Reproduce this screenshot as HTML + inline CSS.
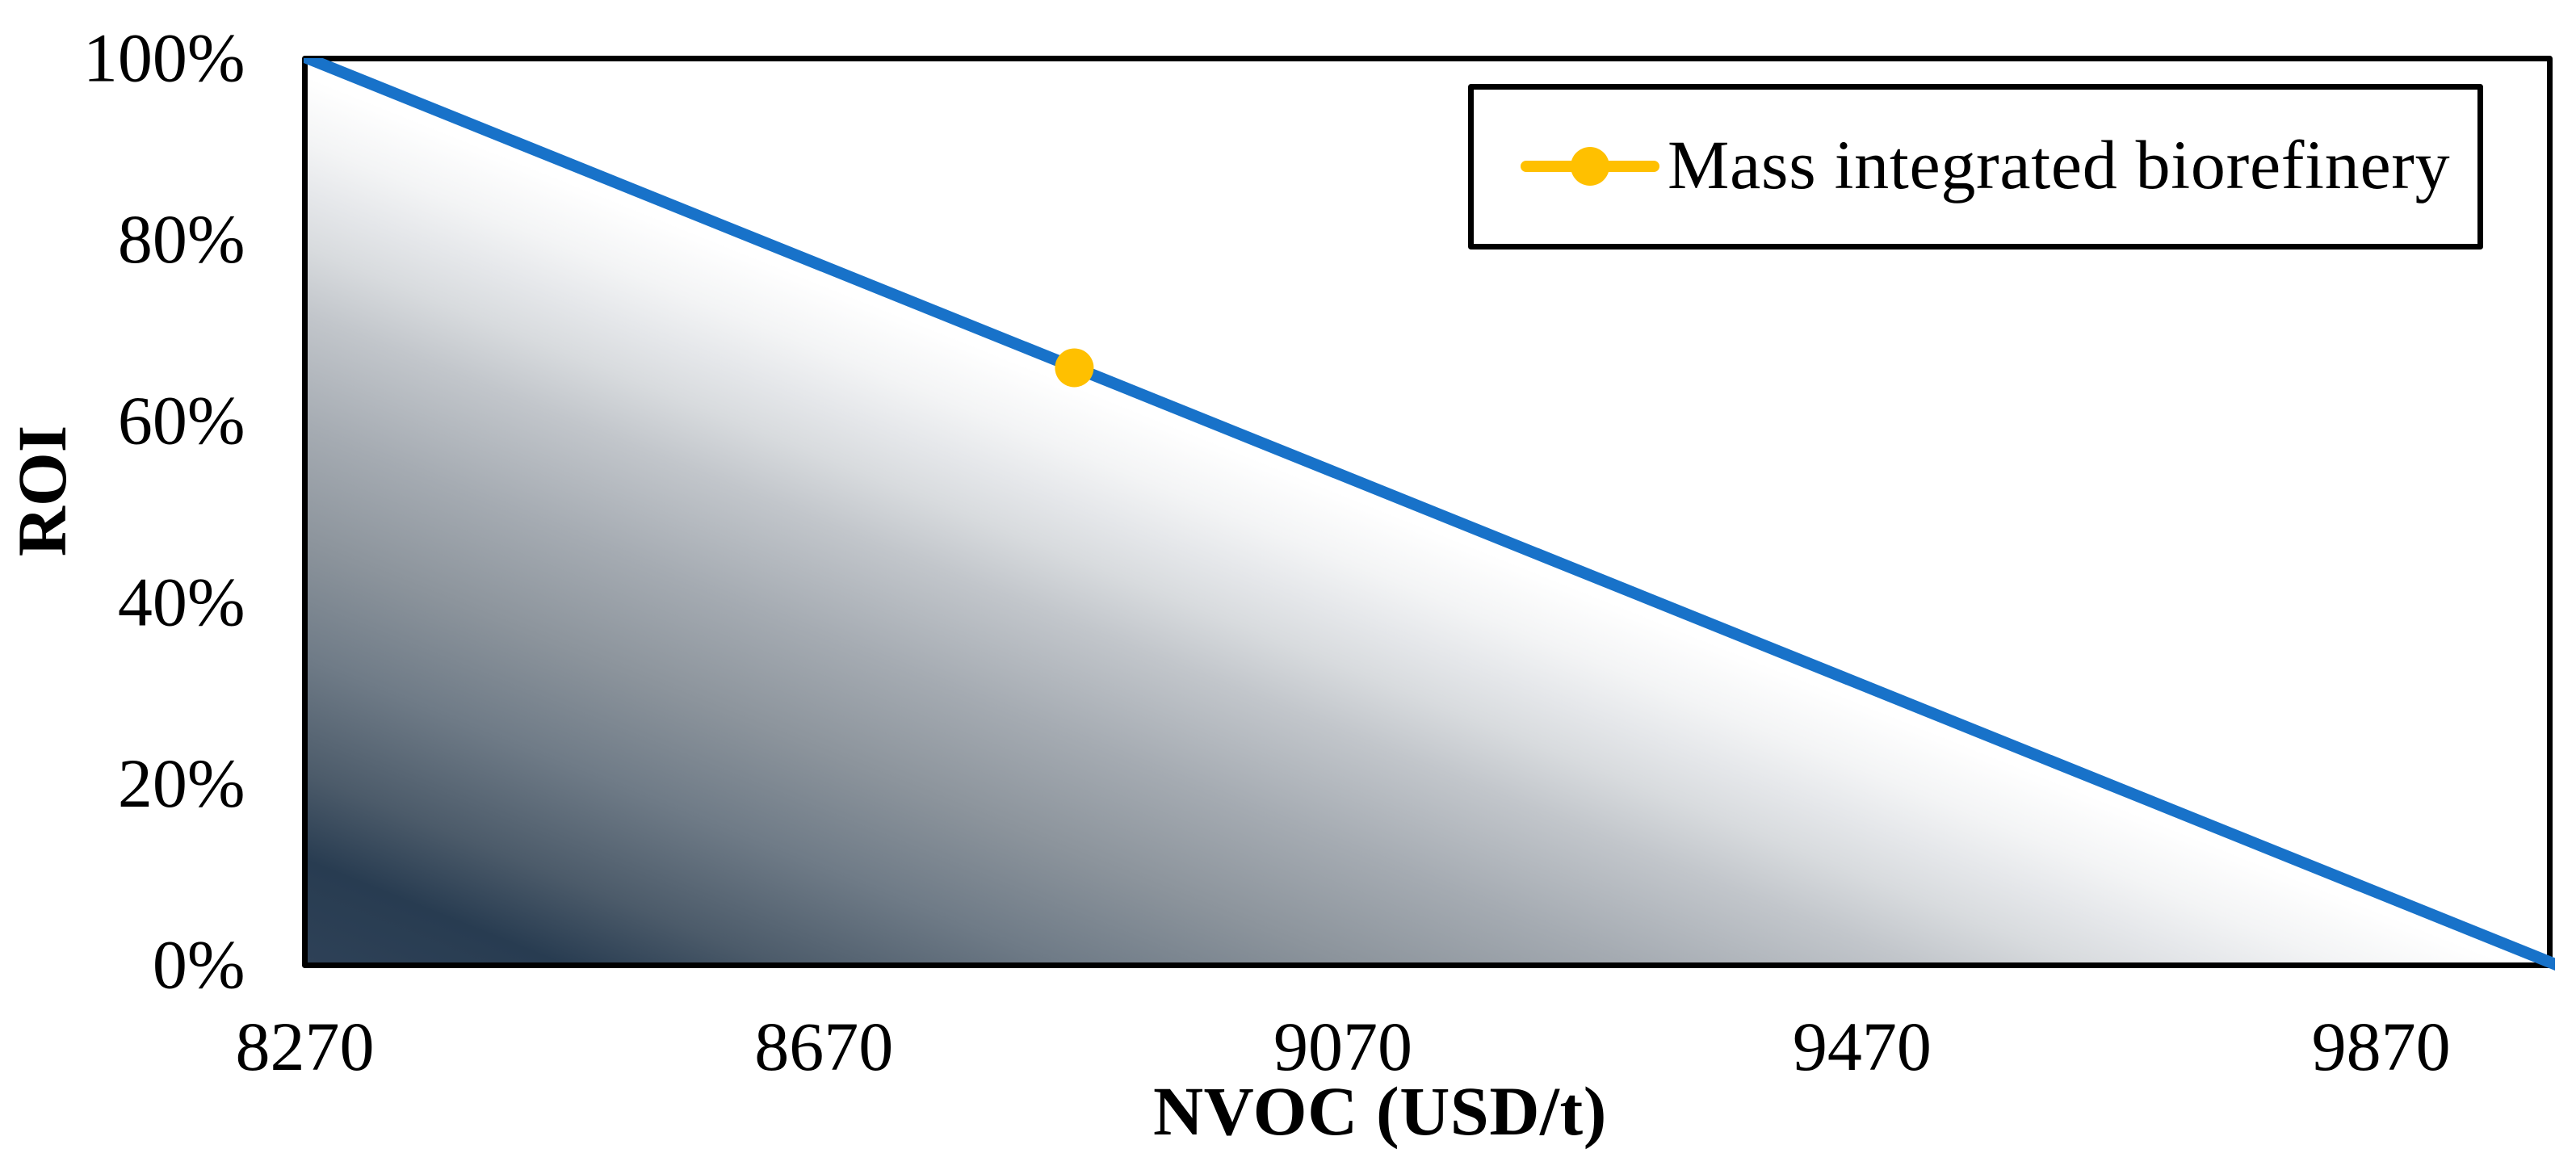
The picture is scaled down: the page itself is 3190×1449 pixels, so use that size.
<!DOCTYPE html>
<html lang="en">
<head>
<meta charset="utf-8">
<title>ROI vs NVOC</title>
<style>
html,body{margin:0;padding:0;background:#fff;width:3190px;height:1449px;overflow:hidden}
svg{display:block}
text{font-family:"Liberation Serif","Times New Roman",serif;font-size:86px;fill:#000;font-variant-ligatures:none}
</style>
</head>
<body>
<svg id="chart" xmlns="http://www.w3.org/2000/svg" width="3190" height="1449" viewBox="0 0 3190 1449">
  <defs>
    <clipPath id="line-clip"><rect x="376" y="72" width="2788" height="1130"/></clipPath>
  </defs>
  <rect x="0" y="0" width="3190" height="1449" fill="#ffffff"/>
  <g id="area-layer"></g>
  <rect x="377.5" y="72.5" width="2780" height="1123" fill="none" stroke="#000" stroke-width="7" stroke-linejoin="round"/>
  <g id="tick-layer"></g>
  <g id="series-layer" clip-path="url(#line-clip)"></g>
  <g id="marker-layer"></g>
  <text x="1709" y="1405" text-anchor="middle" font-weight="bold" letter-spacing="0.6">NVOC (USD/t)</text>
  <text transform="translate(81 608) rotate(-90)" text-anchor="middle" font-weight="bold">ROI</text>
  <g>
    <rect x="1821.5" y="107.5" width="1250" height="198" fill="#fff" stroke="#000" stroke-width="7" stroke-linejoin="round"/>
    <line x1="1890" y1="206" x2="2048" y2="206" stroke="#FFC000" stroke-width="14" stroke-linecap="round"/>
    <circle cx="1969" cy="206" r="24" fill="#FFC000"/>
    <text x="2065" y="233" letter-spacing="0.7">Mass integrated biorefinery</text>
  </g>
</svg>
<script>
var xValues = [8270, 10000];
var roiValues = [100.15, 0.35];
var markerX = [8863];
var markerY = [65.9];
var xTicks = [8270, 8670, 9070, 9470, 9870];
var yTicks = [0, 20, 40, 60, 80, 100];

var NS = 'http://www.w3.org/2000/svg';
var X_MIN = 8270, X_MAX = 10000, Y_MIN = 0, Y_MAX = 100;
var LEFT = 377.5, RIGHT = 3157.5, TOP = 72.5, BOTTOM = 1195.5;
function xScale(v) { return LEFT + (v - X_MIN) / (X_MAX - X_MIN) * (RIGHT - LEFT); }
function yScale(v) { return BOTTOM - (v - Y_MIN) / (Y_MAX - Y_MIN) * (BOTTOM - TOP); }
function make(tag, attrs, parent) {
  var el = document.createElementNS(NS, tag);
  for (var k in attrs) el.setAttribute(k, attrs[k]);
  parent.appendChild(el);
  return el;
}

var defs = document.querySelector('#chart defs');
var x0 = xScale(xValues[0]), y0 = yScale(roiValues[0]);
var x1 = xScale(xValues[xValues.length - 1]), y1 = yScale(roiValues[roiValues.length - 1]);
var dx = x1 - x0, dy = y1 - y0, len = Math.sqrt(dx * dx + dy * dy);
var nx = -dy / len, ny = dx / len;

var cornerX = x0, cornerY = yScale(0);
var depth = (cornerX - x0) * nx + (cornerY - y0) * ny;
var grad = make('linearGradient', {
  id: 'area-gradient', gradientUnits: 'userSpaceOnUse',
  x1: x0, y1: y0, x2: x0 + nx * depth, y2: y0 + ny * depth
}, defs);
var gradStops = [[0.02, '#ffffff'], [0.093, '#f3f4f5'], [0.152, '#e5e7ea'], [0.209, '#d8dbde'], [0.282, '#c2c6cb'], [0.408, '#a5abb2'], [0.534, '#8c949c'], [0.661, '#6f7b87'], [0.789, '#4c5b6a'], [0.884, '#283c51'], [1, '#2e4157']];
gradStops.forEach(function (s) {
  make('stop', { offset: s[0], 'stop-color': s[1] }, grad);
});

var areaPts = xValues.map(function (v, i) { return xScale(v) + ',' + yScale(roiValues[i]); });
areaPts.push(xScale(xValues[xValues.length - 1]) + ',' + yScale(0));
areaPts.push(xScale(xValues[0]) + ',' + yScale(0));
var area = make('polygon', { points: areaPts.join(' '), fill: 'url(#area-gradient)' }, document.getElementById('area-layer'));



var ext = 30;
var line = make('line', {
  x1: x0 - dx / len * ext, y1: y0 - dy / len * ext,
  x2: x1 + dx / len * ext, y2: y1 + dy / len * ext,
  stroke: '#1872C9', 'stroke-width': 14.5
}, document.getElementById('series-layer'));



markerX.forEach(function (v, i) {
  var c = make('circle', { cx: xScale(v), cy: yScale(markerY[i]), r: 24, fill: '#FFC000' }, document.getElementById('marker-layer'));
  
  
});

var tickLayer = document.getElementById('tick-layer');
xTicks.forEach(function (v) {
  var t = make('text', { x: xScale(v), y: 1325, 'text-anchor': 'middle' }, tickLayer);
  t.textContent = String(v);
  
  
});
yTicks.forEach(function (v) {
  var t = make('text', { x: 303.5, y: yScale(v) + 28, 'text-anchor': 'end' }, tickLayer);
  t.textContent = v + '%';
  
  
});
</script>
</body>
</html>
